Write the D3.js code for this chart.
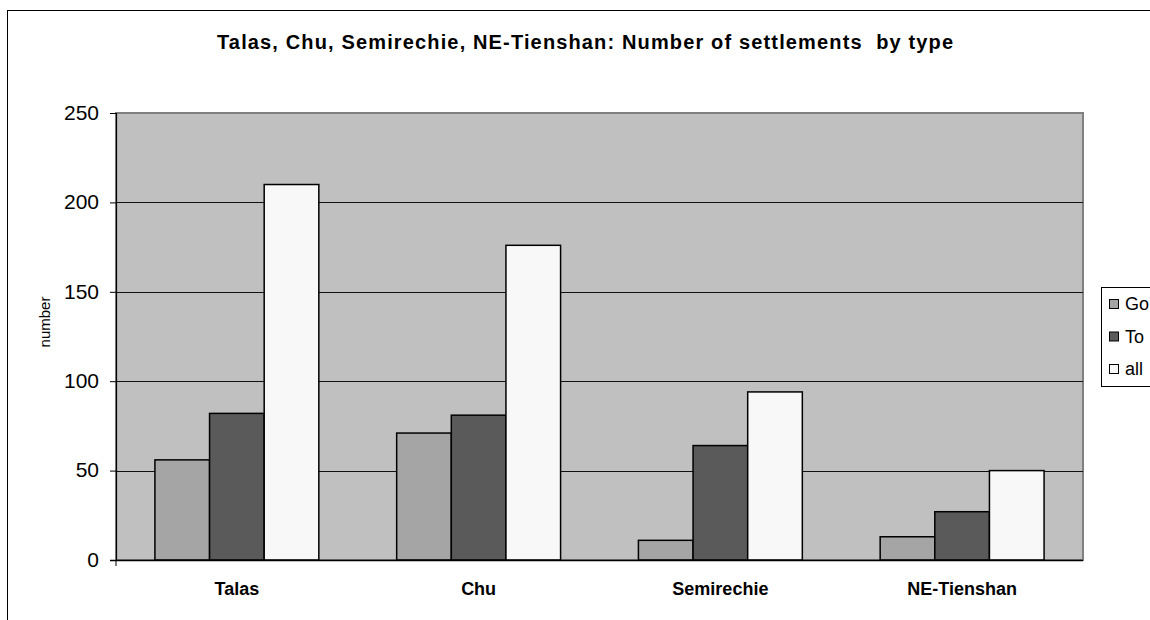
<!DOCTYPE html>
<html>
<head>
<meta charset="utf-8">
<script src="https://cdn.jsdelivr.net/npm/d3@7"></script>
<style>
  html, body { margin: 0; padding: 0; background: #fff; overflow: hidden; }
  svg { display: block; font-family: "Liberation Sans", Arial, sans-serif; }
</style>
</head>
<body>
<svg id="chart" width="1150" height="620"></svg>
<script>
// Regions and settlement counts per type
const regions = ["Talas", "Chu", "Semirechie", "NE-Tienshan"];
const seriesNames = ["Go", "To", "all"];
const goValues = [56, 71, 11, 13];
const toValues = [82, 81, 64, 27];
const allValues = [210, 176, 94, 50];
const yTicks = [0, 50, 100, 150, 200, 250];

const seriesValues = [goValues, toValues, allValues];
const seriesFill = ["#a5a5a5", "#5a5a5a", "#f8f8f8"];

const svg = d3.select("#chart");

// Outer chart frame (extends past the right and bottom edges)
svg.append("rect")
  .attr("x", 7.5).attr("y", 10.5)
  .attr("width", 1200).attr("height", 700)
  .attr("fill", "#fff").attr("stroke", "#000").attr("stroke-width", 1);

const plot = { left: 116, right: 1083, top: 113, bottom: 560 };

const x0 = d3.scaleBand().domain(regions)
  .range([plot.left, plot.right]).paddingInner(0.322).paddingOuter(0.161);
const x1 = d3.scaleBand().domain(seriesNames).range([0, x0.bandwidth()]);
const y = d3.scaleLinear().domain([0, 250]).range([plot.bottom, plot.top]);

// Plot background
svg.append("rect")
  .attr("x", plot.left).attr("y", plot.top)
  .attr("width", plot.right - plot.left).attr("height", plot.bottom - plot.top)
  .attr("fill", "#c0c0c0").attr("stroke", "#808080").attr("stroke-width", 2);

// Gridlines
svg.append("g")
  .selectAll("line")
  .data(yTicks.filter(t => t > 0 && t < 250))
  .join("line")
  .attr("x1", plot.left).attr("x2", plot.right)
  .attr("y1", d => Math.round(y(d)) + 0.5).attr("y2", d => Math.round(y(d)) + 0.5)
  .attr("stroke", "#111").attr("stroke-width", 1);

// Bars
const groups = svg.append("g")
  .selectAll("g")
  .data(regions)
  .join("g")
  .attr("transform", d => `translate(${x0(d)},0)`);

groups.selectAll("rect")
  .data((d, i) => seriesNames.map((s, k) => ({ s, k, v: seriesValues[k][i] })))
  .join("rect")
  .attr("x", d => x1(d.s))
  .attr("y", d => y(d.v))
  .attr("width", x1.bandwidth())
  .attr("height", d => y(0) - y(d.v))
  .attr("fill", d => seriesFill[d.k])
  .attr("stroke", "#000").attr("stroke-width", 1.5);

// Y axis
const yAxis = d3.axisLeft(y).tickValues(yTicks).tickSize(6).tickPadding(11);
const gy = svg.append("g").attr("transform", `translate(${plot.left},0)`).call(yAxis);
gy.select(".domain").attr("stroke", "#000").attr("stroke-width", 1.2);
gy.selectAll(".tick line").attr("stroke", "#000");
gy.selectAll(".tick text").attr("font-size", 21).attr("fill", "#000")
  .attr("dy", "0.3em")
  .attr("font-family", "Liberation Sans, Arial, sans-serif");

// X axis
const xAxis = d3.axisBottom(x0).tickSize(0).tickPadding(22);
const gx = svg.append("g").attr("transform", `translate(0,${plot.bottom})`).call(xAxis);
gx.select(".domain").remove();
gx.append("line")
  .attr("x1", plot.left - 6).attr("x2", plot.right)
  .attr("y1", 0.5).attr("y2", 0.5)
  .attr("stroke", "#000").attr("stroke-width", 1.5);
gx.append("line")
  .attr("x1", plot.left).attr("x2", plot.left)
  .attr("y1", 0).attr("y2", 6)
  .attr("stroke", "#000");
gx.selectAll(".tick text")
  .attr("y", 35).attr("dy", 0)
  .attr("font-size", 18).attr("font-weight", "bold")
  .attr("fill", "#000").attr("font-family", "Liberation Sans, Arial, sans-serif");

// Title
svg.append("text")
  .attr("x", 217).attr("y", 49)
  .attr("textLength", 736).attr("lengthAdjust", "spacing")
  .attr("font-size", 20).attr("font-weight", "bold")
  .style("white-space", "pre")
  .text("Talas, Chu, Semirechie, NE-Tienshan: Number of settlements  by type");

// Y axis title
svg.append("text")
  .attr("transform", "translate(50,322) rotate(-90)")
  .attr("text-anchor", "middle")
  .attr("font-size", 15)
  .text("number");

// Legend
const legend = svg.append("g");
legend.append("rect")
  .attr("x", 1101.5).attr("y", 287.5)
  .attr("width", 80).attr("height", 99)
  .attr("fill", "#fff").attr("stroke", "#000");
const li = legend.selectAll("g.item")
  .data(seriesNames)
  .join("g").attr("class", "item")
  .attr("transform", (d, i) => `translate(1109,${310 + i * 32.5})`);
li.append("rect")
  .attr("x", 0.5).attr("y", -10.5).attr("width", 9).attr("height", 9)
  .attr("fill", (d, i) => seriesFill[i]).attr("stroke", "#000");
li.append("text")
  .attr("x", 16).attr("y", 0)
  .attr("font-size", 18)
  .text(d => d);
</script>
</body>
</html>
